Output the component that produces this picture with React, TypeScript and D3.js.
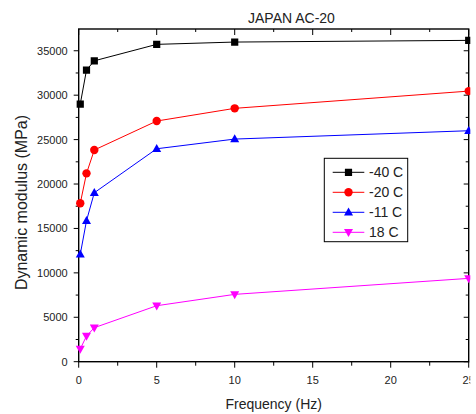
import React, { useEffect, useRef } from "react";
import * as d3 from "d3";

const freqs = [0.1, 0.5, 1, 5, 10, 25];
const seriesNames = ["-40 C", "-20 C", "-11 C", "18 C"];
const seriesColors = ["#000000", "#ff0000", "#0000ff", "#ff00ff"];
const seriesSymbols = ["square", "circle", "triUp", "triDown"];
const minus40 = [29000, 32830, 33870, 35720, 35980, 36170];
const minus20 = [17830, 21200, 23830, 27090, 28520, 30460];
const minus11 = [12080, 15870, 19020, 23970, 25060, 26000];
const plus18 = [1430, 2890, 3830, 6300, 7580, 9380];
const xTicks = [0, 5, 10, 15, 20, 25];
const yTicks = [0, 5000, 10000, 15000, 20000, 25000, 30000, 35000];

const W = 476;
const H = 414;
const margin = { left: 78.7, top: 29, right: 468.7, bottom: 361.7 };

const symbolPath = (kind: string, cx: number, cy: number) => {
  if (kind === "square") return `M${cx - 3.6},${cy - 3.6}h7.2v7.2h-7.2Z`;
  if (kind === "triUp") return `M${cx},${cy - 4.8}L${cx + 4.5},${cy + 3.2}L${cx - 4.5},${cy + 3.2}Z`;
  if (kind === "triDown") return `M${cx},${cy + 4.8}L${cx + 4.5},${cy - 3.2}L${cx - 4.5},${cy - 3.2}Z`;
  return "";
};

const App = () => {
  const ref = useRef<SVGSVGElement>(null);

  useEffect(() => {
    const root = d3.select(ref.current);
    root.selectAll("*").remove();
    const font = "'Liberation Sans', Arial, sans-serif";

    // the original picture is cut off just right of the frame
    root.append("defs").append("clipPath").attr("id", "crop")
      .append("rect").attr("x", 0).attr("y", 0).attr("width", 470.3).attr("height", H);
    const svg = root.append("g").attr("clip-path", "url(#crop)");

    const x = d3.scaleLinear().domain([0, 25]).range([margin.left, margin.right]);
    const y = d3.scaleLinear().domain([0, 37450]).range([margin.bottom, margin.top]);

    const allSeries = [minus40, minus20, minus11, plus18];

    // axes
    const g = svg.append("g").attr("font-family", font);
    const xMinor = d3.range(0, 25.01, 2.5);
    const yMinor = d3.range(0, 37500, 2500);

    yMinor.forEach(v => {
      const major = v % 5000 === 0;
      g.append("line")
        .attr("x1", margin.left).attr("x2", margin.left - (major ? 5 : 3))
        .attr("y1", y(v)).attr("y2", y(v)).attr("stroke", "#000").attr("stroke-width", 1);
      g.append("line")
        .attr("x1", margin.right).attr("x2", margin.right - (major ? 5 : 3))
        .attr("y1", y(v)).attr("y2", y(v)).attr("stroke", "#000").attr("stroke-width", 1);
    });
    xMinor.forEach(v => {
      const major = v % 5 === 0;
      g.append("line")
        .attr("x1", x(v)).attr("x2", x(v))
        .attr("y1", margin.bottom).attr("y2", margin.bottom + (major ? 6 : 4))
        .attr("stroke", "#000").attr("stroke-width", 1);
      g.append("line")
        .attr("x1", x(v)).attr("x2", x(v))
        .attr("y1", margin.top).attr("y2", margin.top + (major ? 6 : 3))
        .attr("stroke", "#000").attr("stroke-width", 1);
    });

    g.append("rect")
      .attr("x", margin.left).attr("y", margin.top)
      .attr("width", margin.right - margin.left).attr("height", margin.bottom - margin.top)
      .attr("fill", "none").attr("stroke", "#000").attr("stroke-width", 1.4);

    g.selectAll("text.ytick").data(yTicks).enter().append("text")
      .attr("class", "ytick")
      .attr("x", margin.left - 11).attr("y", d => y(d) + 4)
      .attr("text-anchor", "end").attr("font-size", 11).attr("fill", "#222")
      .text(d => d);

    g.selectAll("text.xtick").data(xTicks).enter().append("text")
      .attr("class", "xtick")
      .attr("x", d => x(d)).attr("y", 384)
      .attr("text-anchor", "middle").attr("font-size", 11).attr("fill", "#222")
      .text(d => d);

    g.append("text")
      .attr("x", (margin.left + margin.right) / 2).attr("y", 409)
      .attr("text-anchor", "middle").attr("font-size", 14).attr("fill", "#222")
      .text("Frequency (Hz)");

    g.append("text")
      .attr("transform", `translate(27,202.5) rotate(-90)`)
      .attr("text-anchor", "middle").attr("font-size", 16).attr("fill", "#222")
      .text("Dynamic modulus (MPa)");

    g.append("text")
      .attr("x", 248).attr("y", 23)
      .attr("font-size", 14).attr("fill", "#222")
      .text("JAPAN AC-20");

    // series
    const line = d3.line<number>().x((d, i) => x(freqs[i])).y(d => y(d));
    allSeries.forEach((vals, si) => {
      const color = seriesColors[si];
      svg.append("path")
        .attr("d", line(vals))
        .attr("fill", "none").attr("stroke", color).attr("stroke-width", 1);
      vals.forEach((v, i) => {
        const cx = x(freqs[i]);
        const cy = y(v);
        if (seriesSymbols[si] === "circle") {
          svg.append("circle").attr("cx", cx).attr("cy", cy).attr("r", 4.2).attr("fill", color);
        } else {
          svg.append("path").attr("d", symbolPath(seriesSymbols[si], cx, cy)).attr("fill", color);
        }
      });
    });

    // legend
    const lg = svg.append("g").attr("font-family", font);
    lg.append("rect")
      .attr("x", 324.3).attr("y", 158.3).attr("width", 83.4).attr("height", 83.4)
      .attr("fill", "#fff").attr("stroke", "#000").attr("stroke-width", 1);
    seriesNames.forEach((name, i) => {
      const ly = 172.3 + i * 20;
      const color = seriesColors[i];
      lg.append("line")
        .attr("x1", 332.7).attr("x2", 364.3).attr("y1", ly).attr("y2", ly)
        .attr("stroke", color).attr("stroke-width", 1);
      if (seriesSymbols[i] === "circle") {
        lg.append("circle").attr("cx", 348.5).attr("cy", ly).attr("r", 4.2).attr("fill", color);
      } else {
        lg.append("path").attr("d", symbolPath(seriesSymbols[i], 348.5, ly)).attr("fill", color);
      }
      lg.append("text")
        .attr("x", 369).attr("y", ly + 5)
        .attr("font-size", 14).attr("fill", "#222")
        .text(name);
    });
  }, []);

  return (
    <svg
      ref={ref}
      width={W}
      height={H}
      style={{ position: "absolute", left: 0, top: 0, background: "#fff", overflow: "hidden" }}
    />
  );
};

export default App;
